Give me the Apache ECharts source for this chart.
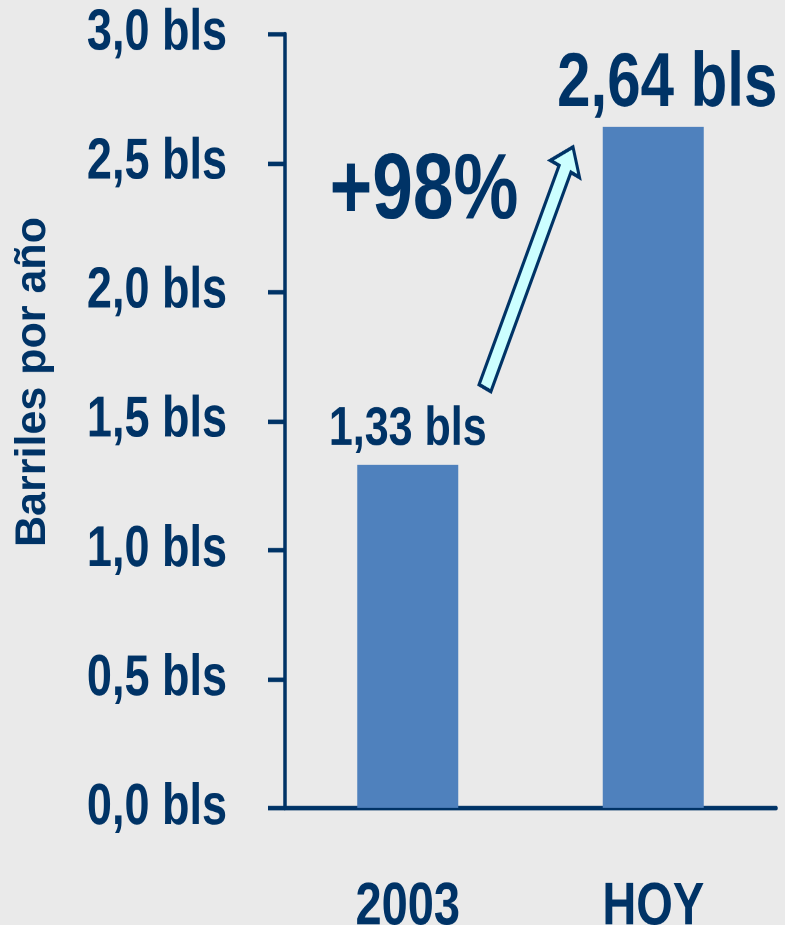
<!DOCTYPE html>
<html>
<head>
<meta charset="utf-8">
<script src="https://cdn.jsdelivr.net/npm/echarts@6/dist/echarts.min.js"></script>
<style>
html,body{margin:0;padding:0;background:#eaeaea;overflow:hidden;}
#wrap{width:785px;height:925px;overflow:hidden;}
#chart{width:785px;height:728px;transform:scaleY(1.2706);transform-origin:0 0;}
</style>
</head>
<body>
<div id="wrap"><div id="chart"></div></div>
<script>
const categories = ['2003', 'HOY'];
const values = [1.33, 2.64];
const valueLabels = ['1,33 bls', '2,64 bls'];
const yAxisTitle = 'Barriles por año';
const changeText = '+98%';

const NAVY = '#003366';
const FONT = '"Liberation Sans", Arial, sans-serif';
const S = 925 / 728; // vertical stretch of the original slide

const chart = echarts.init(document.getElementById('chart'), null, {renderer: 'canvas', devicePixelRatio: 2});

const fmt = v => v.toFixed(1).replace('.', ',') + ' bls';

// annotation arrow (reference pixel coords, converted to unstretched space)
const tail = [485, 388 / S], tip = [573, 147 / S];
const dx = tip[0] - tail[0], dy = tip[1] - tail[1];
const L = Math.sqrt(dx * dx + dy * dy);
const u = [dx / L, dy / L], n = [-u[1], u[0]];
const w = 6.5, hw = 16, hl = 19;
const H = [tip[0] - u[0] * hl, tip[1] - u[1] * hl];
const P = (p, s) => [p[0] + n[0] * s, p[1] + n[1] * s];
const pts = [P(tail, -w), P(H, -w), P(H, -hw), tip, P(H, hw), P(H, w), P(tail, w)];

chart.setOption({
  backgroundColor: '#eaeaea',
  animation: false,
  grid: {left: 285, right: 9, top: 34 / S, bottom: (925 - 808) / S, containLabel: false, outerBoundsMode: 'none'},
  xAxis: {
    type: 'category',
    data: categories,
    axisLine: {lineStyle: {color: NAVY, width: 3.5}},
    axisTick: {length: 23 / S, lineStyle: {color: NAVY, width: 3.5}},
    axisLabel: {color: NAVY, fontFamily: FONT, fontWeight: 'bold', fontSize: 47, margin: 55}
  },
  yAxis: {
    type: 'value',
    min: 0, max: 3, interval: 0.5,
    axisLine: {show: true, lineStyle: {color: NAVY, width: 3.5}},
    axisTick: {show: true, length: 17, lineStyle: {color: NAVY, width: 3.5}},
    splitLine: {show: false},
    axisLabel: {color: NAVY, fontFamily: FONT, fontWeight: 'bold', fontSize: 45, margin: 58,
      formatter: v => fmt(v)}
  },
  series: [{
    type: 'bar',
    barWidth: 101,
    itemStyle: {color: '#4f81bd'},
    data: values.map((v, i) => ({
      value: v,
      label: {
        show: true, position: 'top',
        distance: i === 0 ? 6 : 3,
        offset: i === 0 ? [0, 0] : [14, 0],
        formatter: valueLabels[i],
        color: NAVY, fontFamily: FONT, fontWeight: 'bold',
        fontSize: i === 0 ? 43 : 60
      }
    }))
  }],
  graphic: [
    {type: 'polygon', shape: {points: pts}, style: {fill: '#ccffff', stroke: NAVY, lineWidth: 3}},
    {type: 'text', x: 424, y: 152, style: {text: changeText, fill: NAVY, font: 'bold 73px ' + FONT, textAlign: 'center', textVerticalAlign: 'middle'}},
    {type: 'text', x: 33, y: 382 / S, rotation: Math.PI / 2, scaleX: 1 / S, scaleY: 1,
      style: {text: yAxisTitle, fill: NAVY, font: 'bold 43px ' + FONT, textAlign: 'center', textVerticalAlign: 'middle'}}
  ]
});
</script>
</body>
</html>
